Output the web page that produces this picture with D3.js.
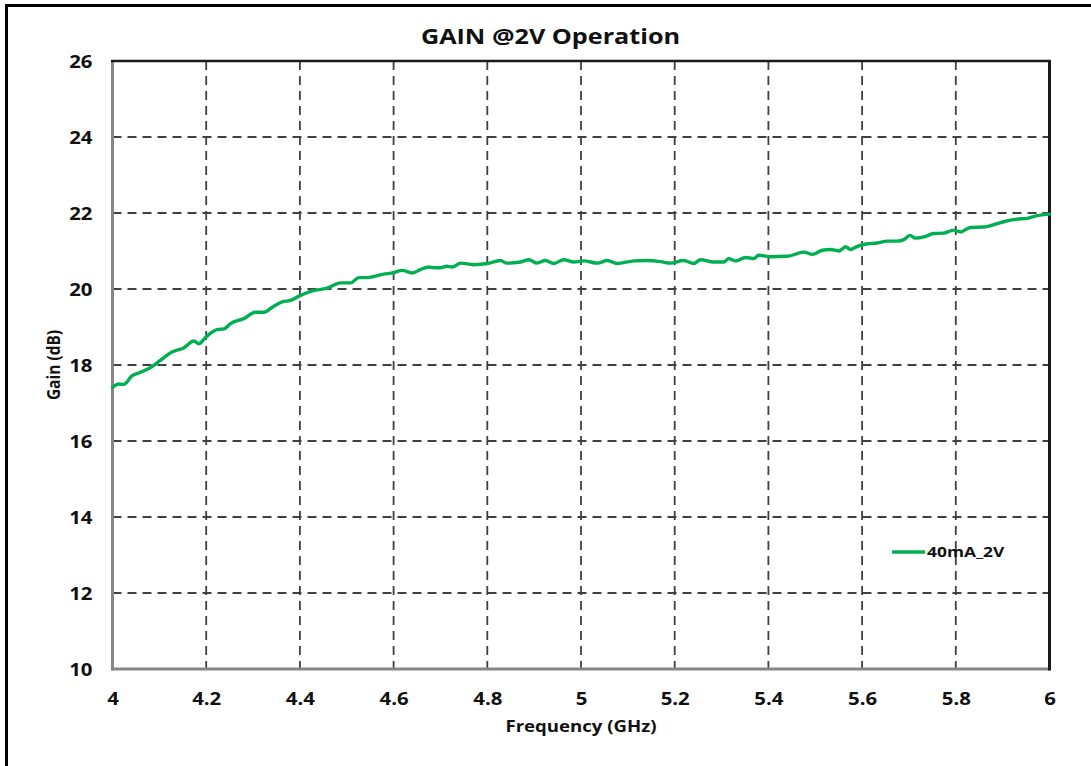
<!DOCTYPE html>
<html>
<head>
<meta charset="utf-8">
<script src="https://cdn.jsdelivr.net/npm/d3@7"></script>
<style>
  html, body { margin: 0; padding: 0; background: #fff; }
  svg { display: block; }
  text { font-family: "Open Sans", "Liberation Sans", sans-serif; font-weight: 700; fill: #111; }
</style>
</head>
<body>
<svg id="chart" width="1091" height="766"></svg>
<script>
// Measured gain of the 40 mA / 2 V bias point across the band
const freqGHz = [
  4.000, 4.013, 4.024, 4.042, 4.060, 4.081, 4.102, 4.127, 4.152, 4.174,
  4.184, 4.199, 4.223, 4.238, 4.252, 4.280, 4.305, 4.323, 4.341, 4.362,
  4.380, 4.401, 4.423, 4.458, 4.487, 4.508, 4.526, 4.544, 4.579, 4.600,
  4.618, 4.640, 4.657, 4.675, 4.686, 4.700, 4.714, 4.725, 4.743, 4.771,
  4.800, 4.828, 4.842, 4.871, 4.889, 4.906, 4.924, 4.942, 4.963, 4.985,
  5.006, 5.035, 5.056, 5.077, 5.113, 5.141, 5.170, 5.191, 5.219, 5.241,
  5.255, 5.283, 5.305, 5.315, 5.330, 5.351, 5.369, 5.379, 5.402, 5.440,
  5.476, 5.494, 5.515, 5.533, 5.550, 5.565, 5.575, 5.590, 5.611, 5.632,
  5.654, 5.675, 5.689, 5.702, 5.714, 5.732, 5.753, 5.774, 5.796, 5.810,
  5.831, 5.860, 5.888, 5.902, 5.931, 5.952, 5.974, 6.000
];
const gainDb = [
  17.41, 17.50, 17.49, 17.72, 17.81, 17.93, 18.12, 18.34, 18.45, 18.63,
  18.56, 18.73, 18.93, 18.95, 19.09, 19.22, 19.39, 19.39, 19.52, 19.66,
  19.70, 19.83, 19.94, 20.02, 20.16, 20.16, 20.30, 20.30, 20.39, 20.43,
  20.49, 20.42, 20.51, 20.58, 20.56, 20.56, 20.60, 20.58, 20.68, 20.64,
  20.67, 20.75, 20.68, 20.71, 20.77, 20.68, 20.75, 20.67, 20.77, 20.71,
  20.74, 20.68, 20.75, 20.67, 20.74, 20.75, 20.72, 20.68, 20.75, 20.67,
  20.77, 20.71, 20.71, 20.80, 20.74, 20.83, 20.80, 20.89, 20.85, 20.86,
  20.97, 20.91, 21.02, 21.04, 21.00, 21.11, 21.04, 21.12, 21.19, 21.21,
  21.26, 21.26, 21.30, 21.41, 21.34, 21.37, 21.46, 21.47, 21.55, 21.50,
  21.62, 21.63, 21.72, 21.77, 21.84, 21.86, 21.93, 21.97
];
const xTicks = [4, 4.2, 4.4, 4.6, 4.8, 5, 5.2, 5.4, 5.6, 5.8, 6];
const yTicks = [10, 12, 14, 16, 18, 20, 22, 24, 26];
const seriesName = "40mA_2V";
const titleText = "GAIN @2V Operation";
const xTitle = "Frequency (GHz)";
const yTitle = "Gain (dB)";

const svg = d3.select("#chart");
const plot = { left: 112.5, right: 1049.5, top: 61, bottom: 669 };
const green = "#00b050";
const SX = 1.2; // horizontal widening of the lettering

const x = d3.scaleLinear().domain([4, 6]).range([plot.left, plot.right]);
const y = d3.scaleLinear().domain([10, 26]).range([plot.bottom, plot.top]);

// outer chart frame
svg.append("path")
  .attr("d", "M6.5,770 V5.5 H1095")
  .attr("fill", "none").attr("stroke", "#000").attr("stroke-width", 3);

// text helper: places text at (px, py) widened horizontally
function label(g, str, px, py, anchor, size) {
  return g.append("text")
    .attr("transform", `translate(${px},${py}) scale(${SX},1)`)
    .attr("text-anchor", anchor)
    .style("font-size", size + "px")
    .text(str);
}

// dashed grid
const grid = svg.append("g")
  .attr("stroke", "#404040").attr("stroke-width", 1.8)
  .attr("stroke-dasharray", "9,6");
grid.selectAll("line.h")
  .data(yTicks.filter(v => v > 10 && v < 26))
  .join("line")
  .attr("x1", plot.left).attr("x2", plot.right)
  .attr("y1", d => y(d)).attr("y2", d => y(d));
grid.selectAll("line.v")
  .data(xTicks.filter(v => v > 4 && v < 6))
  .join("line")
  .attr("x1", d => x(d)).attr("x2", d => x(d))
  .attr("y1", plot.top).attr("y2", plot.bottom);

// axes built by d3, domain and ticks hidden; labels restyled
const xAxis = svg.append("g")
  .attr("transform", `translate(0,${plot.bottom})`)
  .call(d3.axisBottom(x).tickValues(xTicks).tickSize(0).tickFormat(d3.format("~g")));
xAxis.select(".domain").remove();
xAxis.selectAll(".tick text").remove();
xAxis.selectAll(".tick").each(function(d) {
  label(d3.select(this), d3.format("~g")(d), 0, 35.5, "middle", 17);
});

const yAxis = svg.append("g")
  .attr("transform", `translate(${plot.left},0)`)
  .call(d3.axisLeft(y).tickValues(yTicks).tickSize(0).tickFormat(d3.format("d")));
yAxis.select(".domain").remove();
yAxis.selectAll(".tick text").remove();
yAxis.selectAll(".tick").each(function(d) {
  label(d3.select(this), d3.format("d")(d), -20, 6.3, "end", 17);
});

// plot borders: gray left/bottom axes, black top/right
svg.append("line").attr("x1", plot.left).attr("x2", plot.left)
  .attr("y1", plot.top).attr("y2", plot.bottom + 1.5)
  .attr("stroke", "#868686").attr("stroke-width", 3);
svg.append("line").attr("x1", plot.left - 1.5).attr("x2", plot.right)
  .attr("y1", plot.bottom).attr("y2", plot.bottom)
  .attr("stroke", "#868686").attr("stroke-width", 3);
svg.append("line").attr("x1", plot.left - 1.5).attr("x2", plot.right + 1.5)
  .attr("y1", plot.top).attr("y2", plot.top)
  .attr("stroke", "#1a1a1a").attr("stroke-width", 2.5);
svg.append("line").attr("x1", plot.right).attr("x2", plot.right)
  .attr("y1", plot.top).attr("y2", plot.bottom + 1.5)
  .attr("stroke", "#1a1a1a").attr("stroke-width", 3);

// gain trace
const pts = freqGHz.map((f, i) => [f, gainDb[i]]);
svg.append("path")
  .datum(pts)
  .attr("fill", "none")
  .attr("stroke", green)
  .attr("stroke-width", 3.4)
  .attr("stroke-linejoin", "round")
  .attr("stroke-linecap", "round")
  .attr("d", d3.line().x(d => x(d[0])).y(d => y(d[1])).curve(d3.curveMonotoneX));

// legend
const legend = svg.append("g");
legend.append("line")
  .attr("x1", 892).attr("x2", 925).attr("y1", 552).attr("y2", 552)
  .attr("stroke", green).attr("stroke-width", 3.4);
label(legend, seriesName, 927, 557, "start", 14.5);

// titles
label(svg, titleText, 550.5, 43.5, "middle", 21);
label(svg, xTitle, (plot.left + plot.right) / 2, 731.5, "middle", 15.5);
svg.append("text")
  .attr("transform", `translate(60,${(plot.top + plot.bottom) / 2}) rotate(-90) scale(1,${SX})`)
  .attr("text-anchor", "middle")
  .style("font-size", "15.5px")
  .text(yTitle);
</script>
</body>
</html>
